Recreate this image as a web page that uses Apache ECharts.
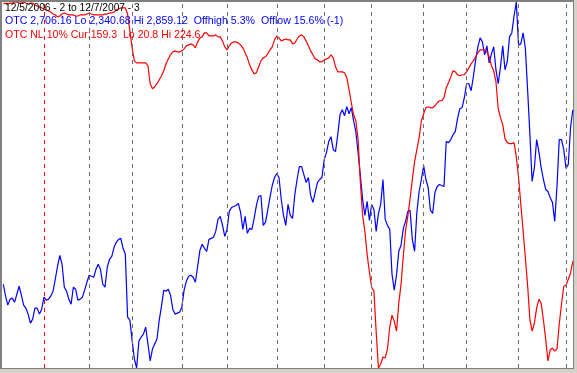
<!DOCTYPE html>
<html>
<head>
<meta charset="utf-8">
<script src="https://cdn.jsdelivr.net/npm/echarts@6/dist/echarts.min.js"></script>
<style>
html,body{margin:0;padding:0;background:#d4d0c8;}
#chart{width:577px;height:373px;}
</style>
</head>
<body>
<div id="chart"></div>
<script>
// OTC (Nasdaq composite) daily closes, 12/5/2006 .. 12/7/2007 (index = trading day)
const otc = [
2459.3,2442.4,2429.7,2438.2,2439.6,2433.9,2445.2,2456.5,2443.8,2429.7,
2425.4,2417.0,2404.2,2409.9,2425.4,2425.4,2417.0,2424.0,2441.0,2436.7,
2438.2,2442.4,2449.5,2466.4,2484.8,2500.3,2487.6,2455.1,2449.5,2438.2,
2431.1,2455.1,2452.3,2436.7,2438.2,2441.0,2450.9,2462.2,2472.1,2470.6,
2469.2,2480.5,2487.6,2480.5,2459.3,2455.1,2483.4,2494.7,2498.9,2511.6,
2518.7,2522.9,2524.3,2510.2,2501.7,2412.7,2408.5,2380.2,2353.4,2340.68,
2378.8,2384.5,2388.7,2398.6,2374.6,2350.6,2367.5,2374.6,2381.7,2408.5,
2428.3,2450.9,2449.5,2452.3,2443.8,2424.0,2417.0,2418.4,2419.8,2426.9,
2450.9,2463.6,2470.6,2472.1,2469.2,2462.2,2484.8,2507.4,2515.9,2510.2,
2506.0,2522.9,2524.3,2525.8,2534.2,2551.2,2555.4,2542.7,2527.2,2537.1,
2562.5,2568.1,2569.5,2570.9,2573.8,2561.1,2537.1,2555.4,2531.4,2538.5,
2537.1,2552.6,2571.0,2583.7,2585.1,2542.7,2546.9,2563.9,2582.3,2599.2,
2610.5,2616.2,2610.5,2579.4,2556.8,2542.7,2572.4,2556.8,2552.6,2586.5,
2607.7,2626.0,2626.0,2614.7,2603.4,2610.5,2585.1,2575.2,2589.3,2603.4,
2607.7,2610.5,2635.9,2645.8,2661.4,2668.4,2650.1,2647.2,2671.2,2699.5,
2706.6,2698.1,2710.8,2700.9,2709.4,2691.0,2675.5,2645.8,2613.3,2579.4,
2556.8,2576.6,2549.8,2572.4,2565.3,2534.2,2559.7,2572.4,2607.7,2551.2,
2542.7,2537.1,2473.5,2450.9,2472.1,2506.0,2514.5,2538.5,2548.4,2562.5,
2563.9,2522.9,2506.0,2561.1,2590.7,2607.7,2627.5,2607.7,2596.4,2563.9,
2559.7,2589.3,2597.8,2600.6,2599.2,2597.8,2661.4,2659.9,2664.2,2671.2,
2675.5,2693.9,2708.0,2709.4,2723.5,2743.3,2743.3,2733.4,2753.2,2777.2,
2795.6,2808.3,2802.6,2784.3,2797.0,2773.0,2785.7,2795.6,2763.1,2743.3,
2767.3,2797.0,2763.1,2774.4,2809.7,2815.3,2839.3,2859.12,2798.4,2799.8,
2815.3,2794.1,2734.8,2672.7,2604.9,2624.6,2664.2,2647.2,2624.6,2607.7,
2593.6,2590.7,2582.3,2575.2,2548.4,2597.8,2664.2,2664.2,2650.1,2623.2,
2628.9,2681.1,2706.16
];
// OTC NL 10% indicator
const otcNL = [
223.5,224.0,223.5,224.0,224.0,224.6,224.6,224.0,224.0,224.6,
224.0,223.5,224.0,224.0,222.9,222.4,221.8,221.3,220.7,220.2,
219.6,219.0,217.9,217.4,216.3,216.8,217.9,218.5,217.9,217.4,
217.4,217.4,216.8,216.8,217.4,217.4,217.4,217.9,218.5,217.9,
217.4,217.4,217.4,217.4,217.4,217.9,217.9,218.5,218.5,219.0,
220.2,220.7,221.3,221.3,221.3,217.9,208.5,199.1,191.8,190.7,
190.7,190.7,190.7,190.7,189.1,179.1,176.3,177.4,179.1,181.3,
183.5,186.3,190.2,192.9,195.2,196.8,197.4,196.8,196.8,197.4,
198.5,200.2,200.7,201.3,200.7,199.1,202.4,204.6,205.2,207.4,
207.4,205.7,205.7,205.7,206.3,205.2,205.2,202.9,199.6,197.9,
200.2,201.8,202.4,202.4,201.8,200.7,199.1,196.3,193.5,189.6,
186.8,184.6,185.2,188.5,191.8,193.5,194.1,195.7,197.9,199.6,
203.5,205.7,204.6,202.9,203.5,204.0,203.5,203.5,201.3,201.8,
204.0,205.7,206.3,205.2,202.9,200.2,197.4,195.2,192.9,192.4,
191.3,191.3,192.4,192.9,193.5,195.2,193.5,188.5,185.7,185.7,
185.7,185.2,182.4,175.7,168.5,161.8,158.5,148.0,124.1,105.8,
96.9,84.1,74.1,65.8,63.6,40.8,20.8,23.0,26.9,26.4,
31.4,43.6,50.2,46.9,41.3,56.9,67.4,83.0,97.4,105.2,
115.2,125.8,135.7,142.4,149.1,158.5,162.4,165.7,166.3,165.7,
165.7,166.8,168.5,169.6,169.6,171.3,176.8,179.6,182.9,186.3,
185.7,184.1,183.5,184.1,184.1,185.7,187.9,190.2,191.8,194.1,
196.3,197.9,197.9,197.9,196.8,194.1,189.1,186.3,180.2,165.2,
160.2,156.3,148.5,146.3,145.7,145.7,146.3,138.5,126.9,111.9,
97.4,82.4,66.9,48.0,41.3,45.8,54.1,59.1,56.9,47.5,
36.9,24.7,30.8,31.9,30.2,31.4,45.2,56.3,66.3,66.9,
70.2,73.6,80.2
];
// first trading day of each month (Jan..Dec 2007), as day index
const monthStarts = [18,38,57,79,99,121,142,163,186,205,228,249];
const yearStart = 18;
const headerLines = [
  '12/5/2006 - 2 to 12/7/2007 - 3',
  'OTC 2,706.16 Lo 2,340.68 Hi 2,859.12  Offhigh 5.3%  Offlow 15.6% (-1)',
  'OTC NL 10% Cur:159.3  Lo 20.8 Hi 224.6'
];
const headerColors = ['#000000','#0000ff','#ff0000'];
const headerScale = [0.93, 0.965, 0.96];

const chart = echarts.init(document.getElementById('chart'), null, {renderer:'canvas'});

const mlData = monthStarts.map(m => ({
  xAxis: m,
  lineStyle: { color: m === yearStart ? '#ff0000' : '#6e6e6e' }
}));

const textEls = headerLines.map((t, k) => ({
  type: 'text', x: 5, y: 2 + k * 13.5, scaleX: headerScale[k], z: 50, silent: true,
  style: { text: t, x: 0, y: 0, fill: headerColors[k],
           font: '11px "Liberation Sans", Arial, sans-serif', verticalAlign: 'top' }
}));

chart.setOption({
  animation: false,
  backgroundColor: '#d4d0c8',
  graphic: [
    { type: 'rect', z: -20, silent: true, shape: { x: 0, y: 0, width: 574, height: 369 }, style: { fill: '#808080' } },
    { type: 'rect', z: -19, silent: true, shape: { x: 2, y: 2, width: 571, height: 366 }, style: { fill: '#ffffff' } }
  ].concat(textEls),
  grid: { left: 3.3, top: 2, width: 569.5, height: 366, containLabel: false },
  xAxis: { type: 'value', min: 0, max: otc.length - 1, show: false },
  yAxis: [
    { type: 'value', min: 2340.68, max: 2859.12, show: false },
    { type: 'value', min: 20.8, max: 224.6, show: false }
  ],
  series: [
    {
      type: 'line', data: [], z: 1, silent: true,
      markLine: {
        silent: true, symbol: ['none','none'], label: { show: false },
        lineStyle: { type: [4, 4], width: 1 },
        data: mlData
      }
    },
    {
      name: 'OTC', type: 'line', yAxisIndex: 0, showSymbol: false, z: 3,
      data: otc.map((v, i) => [i, v]),
      lineStyle: { color: '#0000ff', width: 1.2 }, itemStyle: { color: '#0000ff' }
    },
    {
      name: 'OTC NL 10%', type: 'line', yAxisIndex: 1, showSymbol: false, z: 4,
      data: otcNL.map((v, i) => [i, v]),
      lineStyle: { color: '#ff0000', width: 1.2 }, itemStyle: { color: '#ff0000' }
    }
  ]
});
</script>
</body>
</html>
